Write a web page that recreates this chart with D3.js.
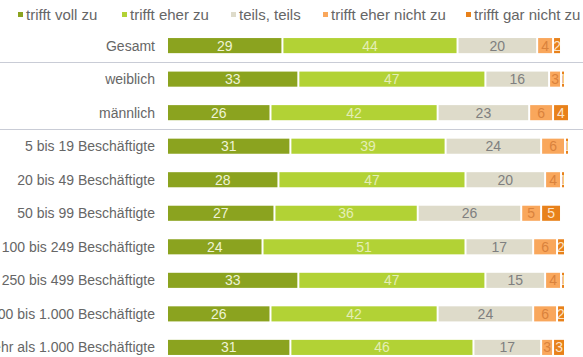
<!DOCTYPE html>
<html>
<head>
<meta charset="utf-8">
<script src="https://cdn.jsdelivr.net/npm/d3@7"></script>
<style>
  body { margin:0; background:#fff; }
  svg { display:block; font-family:"Liberation Sans", Arial, sans-serif; }
</style>
</head>
<body>
<svg class="chart" width="583" height="357"></svg>
<script>
var categories = ["Gesamt","weiblich","männlich","5 bis 19 Beschäftigte","20 bis 49 Beschäftigte",
  "50 bis 99 Beschäftigte","100 bis 249 Beschäftigte","250 bis 499 Beschäftigte",
  "500 bis 1.000 Beschäftigte","mehr als 1.000 Beschäftigte"];
var seriesNames = ["trifft voll zu","trifft eher zu","teils, teils","trifft eher nicht zu","trifft gar nicht zu"];
var vollZu     = [29,33,26,31,28,27,24,33,26,31];
var eherZu     = [44,47,42,39,47,36,51,47,42,46];
var teils      = [20,16,23,24,20,26,17,15,24,17];
var eherNicht  = [4,3,6,6,4,5,6,4,6,3];
var garNicht   = [2,1,4,1,1,5,2,1,2,3];
var separatorsAfter = ["Gesamt","männlich"];

var colors = ["#8ba31f","#b2d235","#dedbca","#f9a75c","#e8811a"];
var textColors = ["#eef3d6","#e4eeb6","#7f7f7f","#d9823c","#fbe3c8"];

var width = 583, height = 357;
var margins = {top:29, left:167, right:16, bottom:-7};
var svg = d3.select('.chart');

var series = [vollZu, eherZu, teils, eherNicht, garNicht];
var rows = categories.map(function(c,i){
  var x0 = 0;
  return series.map(function(s,k){
    var seg = {cat:c, k:k, value:s[i], x0:x0, x1:x0+s[i]};
    x0 += s[i];
    return seg;
  });
});

var xScale = d3.scaleLinear().domain([0,100]).range([margins.left, 565]);
var yScale = d3.scaleBand().domain(categories)
  .range([margins.top, height-margins.bottom]).paddingInner(0.55).paddingOuter(0.27);

// separators
separatorsAfter.forEach(function(c){
  var i = categories.indexOf(c);
  var y = Math.round((yScale(categories[i]) + yScale.bandwidth() + yScale(categories[i+1]))/2) + 0.5;
  svg.append('line').attr('x1',0).attr('x2',width).attr('y1',y).attr('y2',y)
    .attr('stroke','#c9ccd6').attr('stroke-width',1);
});

// category labels (the long ones run off the left edge, as in the original)
svg.append('g').selectAll('text').data(categories).enter().append('text')
  .attr('x', 155).attr('y', function(d){ return yScale(d)+yScale.bandwidth()/2; })
  .attr('dy','0.36em').attr('text-anchor','end')
  .attr('font-size',14).attr('fill','#666')
  .text(function(d){ return d; });

var defs = svg.append('defs');
var segs = [].concat.apply([], rows);
segs.forEach(function(d,i){ d.id = 'clip'+i; });

defs.selectAll('clipPath').data(segs).enter().append('clipPath')
  .attr('id', function(d){ return d.id; })
  .append('rect')
  .attr('x', function(d){ return xScale(d.x0)+1; })
  .attr('y', function(d){ return yScale(d.cat); })
  .attr('width', function(d){ return Math.max(0, xScale(d.x1)-xScale(d.x0)-2); })
  .attr('height', yScale.bandwidth());

var g = svg.append('g').selectAll('g').data(segs).enter().append('g');
g.append('rect')
  .attr('x', function(d){ return xScale(d.x0)+1; })
  .attr('y', function(d){ return yScale(d.cat); })
  .attr('width', function(d){ return Math.max(0, xScale(d.x1)-xScale(d.x0)-2); })
  .attr('height', yScale.bandwidth())
  .attr('fill', function(d){ return colors[d.k]; });
g.append('text')
  .attr('clip-path', function(d){ return 'url(#'+d.id+')'; })
  .attr('x', function(d){ return (xScale(d.x0)+xScale(d.x1))/2; })
  .attr('y', function(d){ return yScale(d.cat)+yScale.bandwidth()/2; })
  .attr('dy','0.36em').attr('text-anchor','middle')
  .attr('font-size',14)
  .attr('fill', function(d){ return textColors[d.k]; })
  .text(function(d){ return d.value; });

// legend
var legendX = [18, 122, 231, 323, 466];
var legend = svg.append('g').selectAll('g').data(seriesNames).enter().append('g')
  .attr('transform', function(d,i){ return 'translate(' + legendX[i] + ',15)'; });
legend.append('rect').attr('x',0).attr('y',-3).attr('width',5).attr('height',5)
  .attr('fill', function(d,i){ return colors[i]; });
legend.append('text').attr('x',8).attr('y',0).attr('dy','0.36em')
  .attr('font-size',15).attr('fill','#666')
  .text(function(d){ return d; });
</script>
</body>
</html>
